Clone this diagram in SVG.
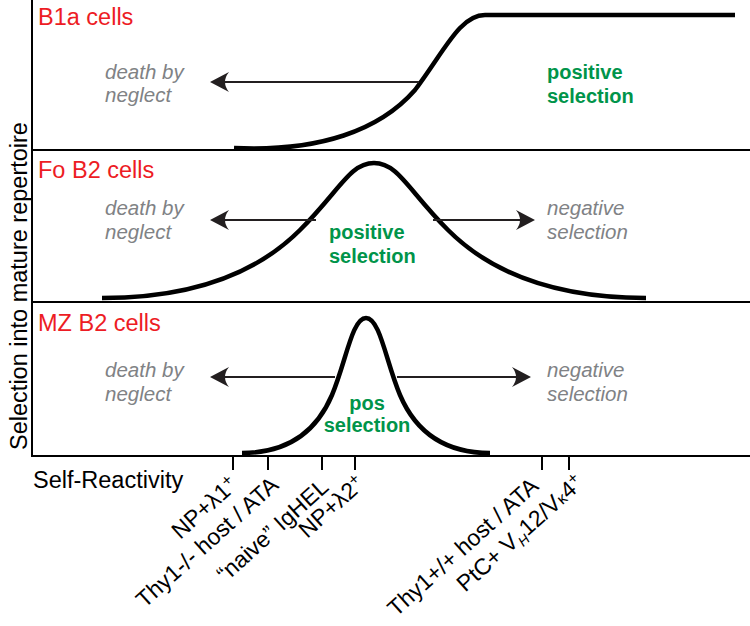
<svg xmlns="http://www.w3.org/2000/svg" width="750" height="626" viewBox="0 0 750 626">
<style>
text{font-family:"Liberation Sans",Arial,Helvetica,sans-serif}
.frame{stroke:#000;stroke-width:2;fill:none}
.curve{stroke:#000;stroke-width:4.5;fill:none;stroke-linejoin:round}
.arrow{stroke:#231f20;stroke-width:2;fill:none;marker-end:url(#ah)}
.tick{stroke:#000;stroke-width:2}
.panel{fill:#ed1c24;font-size:23.5px}
.fate{fill:#808285;font-size:20.5px;font-style:italic}
.pos{fill:#00944a;font-size:20px;font-weight:bold}
.axis{fill:#000;font-size:23.5px}
.tl{fill:#000;font-size:23px}
</style>
<defs>
<marker id="ah" markerWidth="24" markerHeight="24" viewBox="0 0 24 24" refX="18" refY="12" orient="auto" markerUnits="userSpaceOnUse">
<path d="M22,12 L3,2 Q11,12 3,22 Z" fill="#231f20"/>
</marker>
</defs>
<rect width="750" height="626" fill="#fff"/>
<g id="frame">
<path class="frame" d="M32,0 V456 H750 M32,150 H750 M32,302 H750"/>
</g>
<g id="y-axis-label">
<text class="axis" transform="translate(27,286) rotate(-90)" text-anchor="middle">Selection into mature repertoire</text>
</g>
<g id="b1a-panel">
<text class="panel" x="38" y="25">B1a cells</text>
<path class="curve" d="M234,148 C320,152 380,130 415,90 C445,50 460,15 485,15 L735,15"/>
<text class="fate" x="105" y="79">death by</text>
<text class="fate" x="105" y="102">neglect</text>
<text class="pos" x="547" y="79">positive</text>
<text class="pos" x="547" y="103">selection</text>
</g>
<g id="fo-panel">
<text class="panel" x="38" y="178">Fo B2 cells</text>
<path class="curve" d="M102,298 C200,298 260,270 300,230 C340,190 350,163 374,163 C398,163 408,190 448,230 C488,270 548,298 646,298"/>
<text class="fate" x="105" y="215">death by</text>
<text class="fate" x="105" y="239">neglect</text>
<text class="fate" x="547" y="215">negative</text>
<text class="fate" x="547" y="239">selection</text>
<text class="pos" x="329" y="239">positive</text>
<text class="pos" x="329" y="263">selection</text>
</g>
<g id="mz-panel">
<text class="panel" x="38" y="331">MZ B2 cells</text>
<path class="curve" d="M242,453 C285,453 315,435 332,395 C346,362 352,318 366,318 C380,318 386,362 400,395 C417,435 447,453 490,453"/>
<text class="fate" x="105" y="377">death by</text>
<text class="fate" x="105" y="401">neglect</text>
<text class="fate" x="547" y="377">negative</text>
<text class="fate" x="547" y="401">selection</text>
<text class="pos" x="367" y="410" text-anchor="middle">pos</text>
<text class="pos" x="367" y="432" text-anchor="middle">selection</text>
</g>
<g id="connectors">
<line class="arrow" x1="419" y1="82" x2="214" y2="82"/>
<line class="arrow" x1="316" y1="220" x2="214" y2="220"/>
<line class="arrow" x1="433" y1="220" x2="531" y2="220"/>
<line class="arrow" x1="335" y1="377" x2="214" y2="377"/>
<line class="arrow" x1="397" y1="377" x2="527" y2="377"/>
</g>
<g id="x-axis">
<text class="axis" x="33" y="488" font-size="24">Self-Reactivity</text>
<path class="tick" d="M233,456 V470 M268,456 V470 M322,456 V470 M355,456 V470 M542,456 V470 M569,456 V470"/>
</g>
<g id="tick-labels">
<text class="tl" text-anchor="end" transform="translate(239,487) rotate(-42)">NP+λ1<tspan font-size="16" dy="-8">+</tspan></text>
<text class="tl" text-anchor="end" transform="translate(280,487) rotate(-42)">Thy1-/- host / ATA</text>
<text class="tl" text-anchor="end" transform="translate(330,489) rotate(-42)">“naive” IgHEL</text>
<text class="tl" text-anchor="end" transform="translate(366,486) rotate(-42)">NP+λ2<tspan font-size="16" dy="-8">+</tspan></text>
<text class="tl" text-anchor="end" transform="translate(540,488) rotate(-42)">Thy1+/+ host / ATA</text>
<text class="tl" text-anchor="end" transform="translate(585,485) rotate(-42)">PtC+ V<tspan font-size="14" font-style="italic" dy="5">H</tspan><tspan dy="-5">12/V</tspan><tspan font-size="16">κ</tspan>4<tspan font-size="16" dy="-8">+</tspan></text>
</g>
</svg>
